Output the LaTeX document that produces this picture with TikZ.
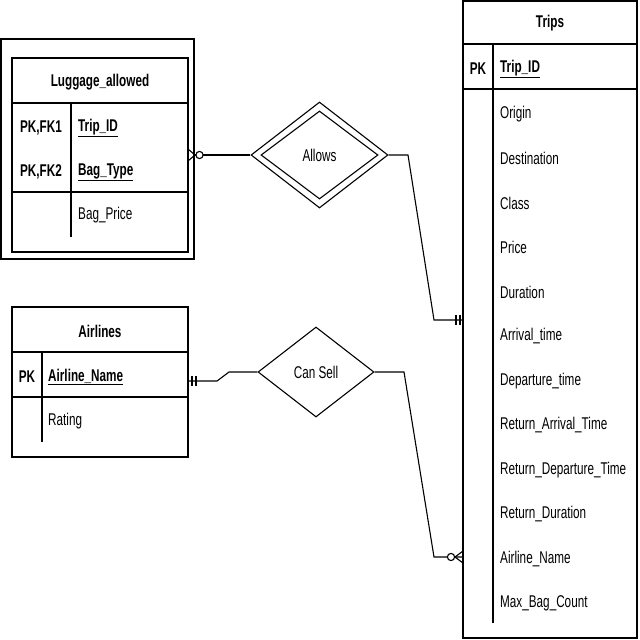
\documentclass[tikz,border=0pt]{standalone}
\usepackage{fontspec}
\setmainfont[FakeStretch=0.69]{Liberation Sans}
\usetikzlibrary{shapes.geometric}
\begin{document}
\begin{tikzpicture}[x=1pt,y=-1pt,
  every node/.style={font=\fontsize{17}{19}\selectfont},
  box/.style={draw,line width=1.1pt,inner sep=0pt},
  sep/.style={line width=1.1pt},
  conn/.style={line width=1.1pt},
  attr/.style={anchor=west,inner sep=0pt},
  key/.style={inner sep=0pt,font=\fontsize{17}{19}\selectfont\bfseries},
  rel/.style={diamond,draw,line width=1.1pt,inner sep=0pt}]
\useasboundingbox (0,0) rectangle (640,640);
\fill[white] (0,0) rectangle (640,640);

% ---------- Trips ----------
\node[box,minimum width=174pt,minimum height=637pt] (trips) at (550,319.5) {};
\draw[sep] (463,44) -- (637,44);
\draw[sep] (463,89) -- (637,89);
\draw[sep] (493,44) -- (493,623);
\node[key] (tripsT) at (550,23) {Trips};
\node[key] (tripsPK) at (478,69) {PK};
\node[key,anchor=west] (tripsID) at (500,69) {\underline{Trip\_ID}};
\foreach \t [count=\i from 0] in {Origin,Destination,Class,Price,Duration,Arrival\_time,Departure\_time,Return\_Arrival\_Time,Return\_Departure\_Time,Return\_Duration,Airline\_Name,Max\_Bag\_Count}
  \node[attr] (ta\i) at (500,{114+44.5*\i}) {\t};

% ---------- Luggage_allowed ----------
\node[draw,line width=1.4pt,minimum width=193pt,minimum height=220pt,inner sep=0pt] (lugout) at (97.5,149) {};
\node[box,minimum width=176pt,minimum height=194pt] (lug) at (100,155) {};
\draw[sep] (12,103) -- (188,103);
\draw[sep] (12,192) -- (188,192);
\draw[sep] (71,103) -- (71,237);
\node[key] (lugT) at (100,82) {Luggage\_allowed};
\node[key] (lugk1) at (41,128) {PK,FK1};
\node[key] (lugk2) at (41,172) {PK,FK2};
\node[key,anchor=west] (luga1) at (78,128) {\underline{Trip\_ID}};
\node[key,anchor=west] (luga2) at (78,172) {\underline{Bag\_Type}};
\node[attr] (luga3) at (78,215) {Bag\_Price};

% ---------- Airlines ----------
\node[box,minimum width=176pt,minimum height=150pt] (air) at (100,382) {};
\draw[sep] (12,352) -- (188,352);
\draw[sep] (12,397) -- (188,397);
\draw[sep] (42,352) -- (42,442);
\node[key] (airT) at (100,331) {Airlines};
\node[key] (airPK) at (27,377) {PK};
\node[key,anchor=west] (aira1) at (48,377) {\underline{Airline\_Name}};
\node[attr] (aira2) at (48,421) {Rating};

% ---------- Relationships ----------
\node[rel,minimum width=137pt,minimum height=106pt] (allows) at (319.5,155) {};
\node[rel,minimum width=117pt,minimum height=88pt] (allowsin) at (319.5,155) {Allows};
\node[rel,minimum width=116pt,minimum height=90pt] (cansell) at (316,372) {Can Sell};

% ---------- Connectors ----------
\coordinate (a1) at (408,155);
\coordinate (a2) at (434,320);
\coordinate (c1) at (404,372);
\coordinate (c2) at (434,557);
\coordinate (s1) at (229,372);
\coordinate (s2) at (217,381);
\draw[conn] (allows.west) -- (allows.west -| lugout.east);
\draw[conn] (allows.east) -- (a1) -- (a2) -- (a2 -| trips.west);
\draw[conn] (cansell.west) -- (s1) -- (s2) -- (s2 -| air.east);
\draw[conn] (cansell.east) -- (c1) -- (c2) -- (c2 -| trips.west);

% ---------- Cardinality marks ----------
% Luggage: zero or many
\draw[conn] (188,149) -- (195,155) -- (188,161);
\draw[conn,fill=white] (199.5,155) circle (3.6pt);
% Trips (Allows): exactly one
\draw[conn] (456,315) -- (456,325);
\draw[conn] (460,315) -- (460,325);
% Airlines: exactly one
\draw[conn] (192,376) -- (192,386);
\draw[conn] (196,376) -- (196,386);
% Trips (Can Sell): zero or many
\draw[conn] (463,551) -- (455,557) -- (463,563);
\draw[conn,fill=white] (451,557) circle (3.6pt);
\end{tikzpicture}
\end{document}
